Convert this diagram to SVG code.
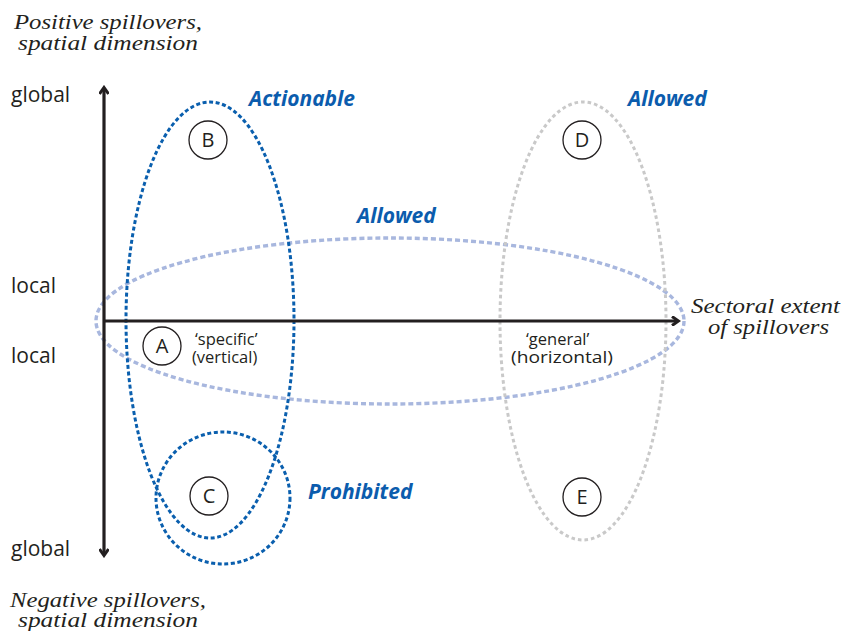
<svg xmlns="http://www.w3.org/2000/svg" width="843" height="631" viewBox="0 0 843 631">
<style>
.ser{font-family:"Liberation Serif","DejaVu Serif",serif;font-style:italic;font-size:20.5px;fill:#231f20}
.sans{font-family:"Open Sans","Liberation Sans",sans-serif;font-size:21px;fill:#231f20}
.small{font-family:"Open Sans","Liberation Sans",sans-serif;font-size:16.5px;fill:#231f20}
.lab{font-family:"Open Sans","Liberation Sans",sans-serif;font-size:21px;font-style:italic;font-weight:bold;fill:#0b5cad}
.letter{font-family:"Open Sans","Liberation Sans",sans-serif;font-size:20px;fill:#231f20;text-anchor:middle}
.node circle{fill:#fff;stroke:#231f20;stroke-width:1.3}
.dk{fill:none;stroke:#0a5fae;stroke-width:3;stroke-dasharray:4 2.6}
.lt{fill:none;stroke:#a8b7de;stroke-width:3.4;stroke-dasharray:5 3}
.gr{fill:none;stroke:#c9c9c9;stroke-width:3;stroke-dasharray:3.6 3}
.axis{stroke:#231f20;stroke-width:3.2;fill:none}
</style>
<defs>
<marker id="ah" markerWidth="10" markerHeight="10" refX="7" refY="5" orient="auto" markerUnits="userSpaceOnUse">
<path d="M1,0.5 L7.5,5 L1,9.5" fill="none" stroke="#231f20" stroke-width="3" stroke-linejoin="miter"/>
</marker>
</defs>
<g id="sets">
<ellipse id="allowed-horizontal" class="lt" cx="390" cy="321" rx="294" ry="83"/>
<ellipse id="allowed-general" class="gr" cx="583" cy="321" rx="83" ry="219"/>
<ellipse id="actionable" class="dk" cx="210" cy="320" rx="84" ry="218"/>
<ellipse id="prohibited" class="dk" cx="223" cy="498" rx="67" ry="66"/>
</g>
<g id="connectors">
<line class="axis" x1="104" y1="320" x2="104" y2="88" marker-end="url(#ah)"/>
<line class="axis" x1="104" y1="320" x2="104" y2="555" marker-end="url(#ah)"/>
<line class="axis" x1="104" y1="321" x2="678" y2="321" marker-end="url(#ah)"/>
</g>
<g id="node-A" class="node"><circle cx="162" cy="346" r="19"/><text class="letter" x="162" y="353">A</text></g>
<g id="node-B" class="node"><circle cx="208" cy="140" r="19"/><text class="letter" x="208" y="147">B</text></g>
<g id="node-C" class="node"><circle cx="209" cy="496" r="19"/><text class="letter" x="209" y="503">C</text></g>
<g id="node-D" class="node"><circle cx="582" cy="140" r="19"/><text class="letter" x="582" y="147">D</text></g>
<g id="node-E" class="node"><circle cx="582" cy="497" r="19"/><text class="letter" x="582" y="504">E</text></g>
<g id="labels">
<text class="ser" x="14" y="29" textLength="188" lengthAdjust="spacingAndGlyphs">Positive spillovers,</text>
<text class="ser" x="18" y="50" textLength="180" lengthAdjust="spacingAndGlyphs">spatial dimension</text>
<text class="ser" x="10" y="607" textLength="196" lengthAdjust="spacingAndGlyphs">Negative spillovers,</text>
<text class="ser" x="18" y="627" textLength="180" lengthAdjust="spacingAndGlyphs">spatial dimension</text>
<text class="ser" x="691" y="313" textLength="149" lengthAdjust="spacingAndGlyphs">Sectoral extent</text>
<text class="ser" x="708" y="334" textLength="121" lengthAdjust="spacingAndGlyphs">of spillovers</text>
<text class="sans" x="11" y="102">global</text>
<text class="sans" x="11" y="293">local</text>
<text class="sans" x="11" y="363">local</text>
<text class="sans" x="11" y="556">global</text>
<text class="small" x="195" y="345">‘specific’</text>
<text class="small" x="192" y="363">(vertical)</text>
<text class="small" x="526" y="345">‘general’</text>
<text class="small" x="511" y="363" textLength="102" lengthAdjust="spacingAndGlyphs">(horizontal)</text>
<text class="lab" x="249" y="106">Actionable</text>
<text class="lab" x="357" y="223">Allowed</text>
<text class="lab" x="628" y="106">Allowed</text>
<text class="lab" x="308" y="499">Prohibited</text>
</g>
</svg>
